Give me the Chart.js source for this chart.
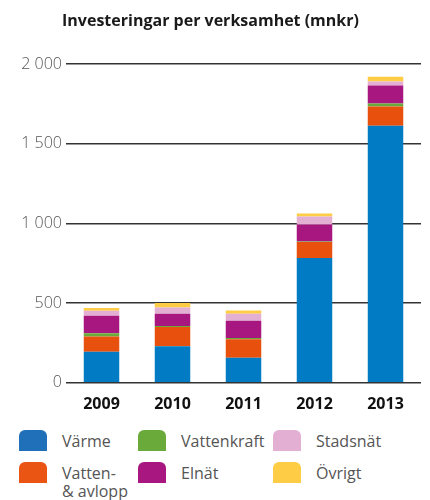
<!DOCTYPE html>
<html>
<head>
<meta charset="utf-8">
<script src="https://cdn.jsdelivr.net/npm/chart.js@4/dist/chart.umd.min.js"></script>
<style>
  body { margin: 0; background: #fff; font-family: "Open Sans", sans-serif; }
  #wrap { position: relative; width: 430px; height: 500px; }
  #box { position: absolute; left: 0; top: 0; width: 430px; height: 418px; }
  .item { position: absolute; display: flex; align-items: flex-start; }
  .sw { width: 28px; height: 21px; border-radius: 6px 6px 0 0; }
  .lbl { margin-left: 15px; font-size: 16px; line-height: 18px; color: #555; white-space: pre-line; margin-top: 2px; }
</style>
</head>
<body>
<div id="wrap">
  <div id="box"><canvas id="chart"></canvas></div>
  <div id="legend"></div>
</div>
<script>
const years = ["2009", "2010", "2011", "2012", "2013"];

// mnkr per verksamhet, bottom to top of stack
const varme = [195, 230, 157, 783, 1614];
const vatten = [95, 120, 117, 101, 120];
const vattenkraft = [21, 7, 7, 3, 19];
const elnat = [110, 77, 108, 107, 113];
const stadsnat = [32, 39, 45, 50, 25];
const ovrigt = [17, 28, 20, 19, 31];

const seriesNames = ["Värme", "Vatten-\n& avlopp", "Vattenkraft", "Elnät", "Stadsnät", "Övrigt"];
const seriesValues = [varme, vatten, vattenkraft, elnat, stadsnat, ovrigt];
const seriesColors = ["#007bc4", "#e8500e", "#6aaa3a", "#a8177f", "#e3afd3", "#fecd45"];
const legendColors = ["#1f70b8", "#ea5513", "#6aaa3a", "#a8177f", "#e3afd3", "#fecd45"];

const yTicks = [0, 500, 1000, 1500, 2000];

const $chart = document.getElementById("chart").getContext("2d");

const datasets = seriesNames.map((name, i) => ({
  label: name.replace("\n", " "),
  data: seriesValues[i],
  backgroundColor: seriesColors[i],
  borderWidth: 0,
  barPercentage: 0.5,
  categoryPercentage: 1,
}));

const chart = new Chart($chart, {
  type: "bar",
  data: { labels: years, datasets: datasets },
  options: {
    responsive: true,
    maintainAspectRatio: false,
    animation: false,
    layout: { padding: { left: 0, right: 9, top: 0, bottom: 0 } },
    plugins: {
      legend: { display: false },
      tooltip: { enabled: false },
      title: {
        display: true,
        text: "Investeringar per verksamhet (mnkr)",
        color: "#1a1a1a",
        font: { family: "Open Sans", size: 16, weight: "bold" },
        padding: { top: 12, bottom: 33 },
      },
    },
    scales: {
      x: {
        stacked: true,
        grid: { display: false },
        border: { display: false },
        ticks: {
          color: "#111",
          font: { family: "Open Sans", size: 16, weight: "bold" },
          padding: 4,
        },
      },
      y: {
        stacked: true,
        min: 0,
        max: 2000,
        afterFit: (scale) => { scale.width = 66; },
        afterBuildTicks: (scale) => { scale.ticks = yTicks.map((v) => ({ value: v })); },
        border: { display: false },
        grid: { color: "#333", lineWidth: 1.5, drawTicks: false },
        ticks: {
          color: "#555",
          padding: 4,
          font: { family: "Open Sans", size: 16, weight: "300" },
          callback: (v) => v >= 1000 ? Math.floor(v / 1000) + " " + String(v % 1000).padStart(3, "0") : String(v),
        },
      },
    },
  },
});

// legend, column by column
const $legend = document.getElementById("legend");
const colX = [19, 138, 273];
const rowY = [430, 462];
seriesNames.forEach((name, i) => {
  const col = Math.floor(i / 2);
  const row = i % 2;
  const item = document.createElement("div");
  item.className = "item";
  item.style.left = colX[col] + "px";
  item.style.top = rowY[row] + "px";
  item.innerHTML = `<div class="sw" style="background:${legendColors[i]}"></div><div class="lbl"></div>`;
  item.querySelector(".lbl").textContent = name;
  $legend.appendChild(item);
});
</script>
</body>
</html>
